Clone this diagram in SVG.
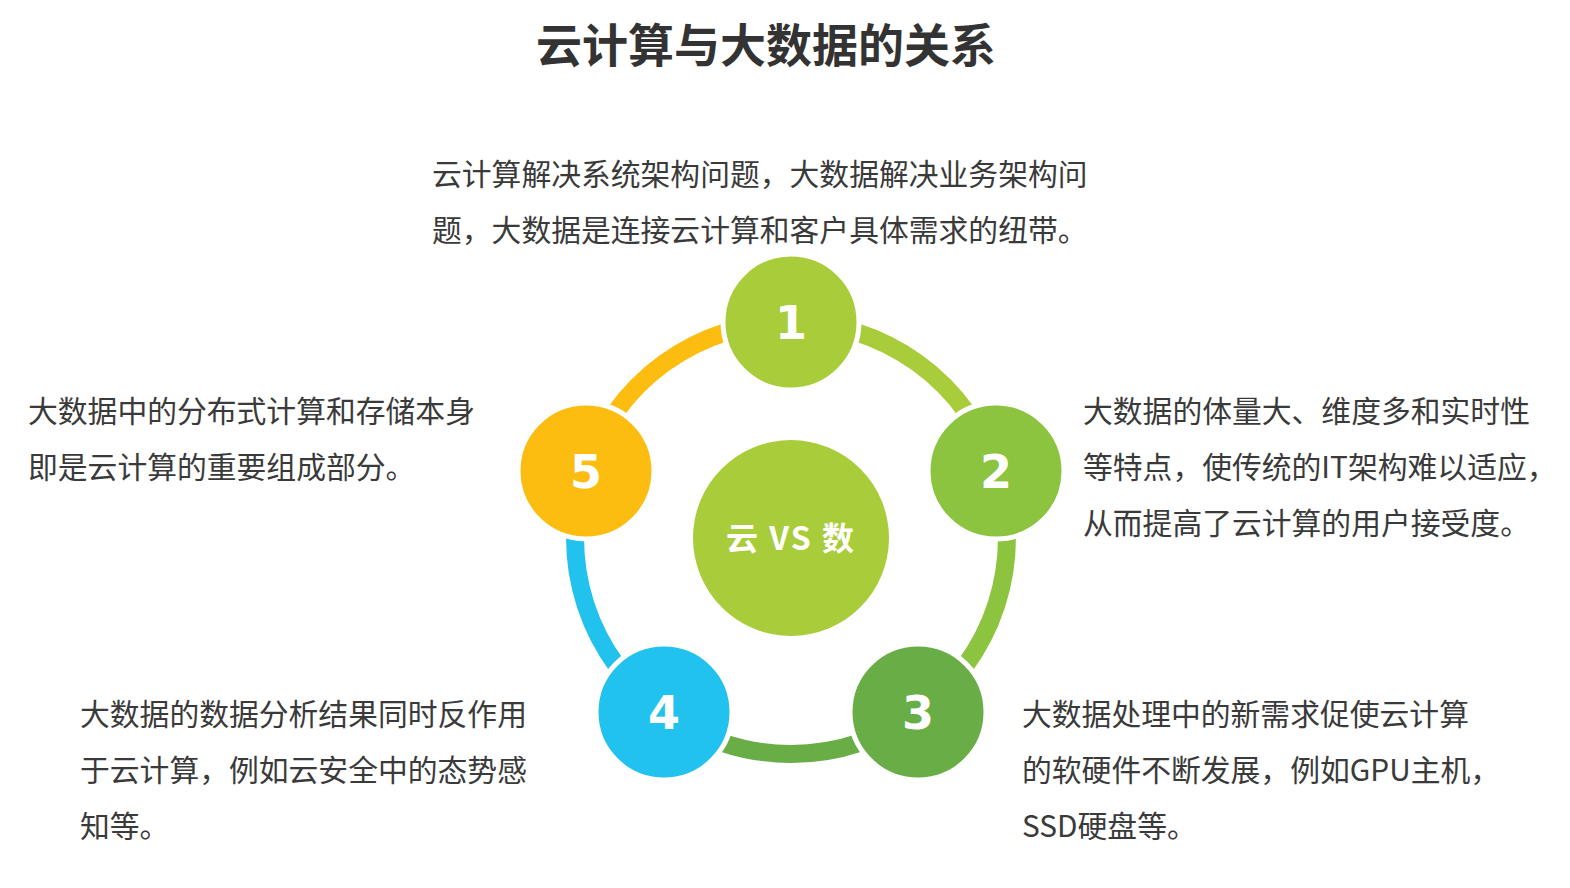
<svg xmlns="http://www.w3.org/2000/svg" width="1570" height="888" viewBox="0 0 1570 888">
<style>
.t{font-family:"Noto Sans CJK SC","Noto Sans",sans-serif;font-size:29.8px;fill:#3a3a3a}
.n{font-family:Verdana,"DejaVu Sans",sans-serif;font-weight:bold;font-size:46px;fill:#fff;text-anchor:middle}
.arc{fill:none;stroke-width:18}
.node{stroke:#fff;stroke-width:5}
</style>
<rect width="1570" height="888" fill="#fff"/>
<text x="766" y="62" text-anchor="middle" style="font-family:'Noto Sans CJK SC',sans-serif;font-weight:bold;font-size:46px;fill:#333">云计算与大数据的关系</text>
<g id="connectors">
<path class="arc" stroke="#a9cd3a" d="M791,322 A216,216 0 0 1 996.4,471.3"/>
<path class="arc" stroke="#8cc43f" d="M996.4,471.3 A216,216 0 0 1 918,712.7"/>
<path class="arc" stroke="#68ad45" d="M918,712.7 A216,216 0 0 1 664,712.7"/>
<path class="arc" stroke="#22c2ee" d="M664,712.7 A216,216 0 0 1 585.6,471.3"/>
<path class="arc" stroke="#fdbd10" d="M585.6,471.3 A216,216 0 0 1 791,322"/>
</g>
<g id="center"><circle cx="791" cy="538" r="98" fill="#a9cd3a"/><text x="791" y="550" text-anchor="middle" style="font-family:'Noto Sans CJK SC',sans-serif;font-weight:bold;font-size:32px;letter-spacing:2px;fill:#fff">云 VS 数</text></g>
<g id="n1"><circle class="node" cx="791" cy="322" r="68" fill="#a9cd3a"/><text class="n" x="791" y="339">1</text></g>
<g id="n2"><circle class="node" cx="996" cy="471" r="68" fill="#8cc43f"/><text class="n" x="996" y="488">2</text></g>
<g id="n3"><circle class="node" cx="918" cy="712" r="68" fill="#68ad45"/><text class="n" x="918" y="729">3</text></g>
<g id="n4"><circle class="node" cx="664" cy="712" r="68" fill="#22c2ee"/><text class="n" x="664" y="729">4</text></g>
<g id="n5"><circle class="node" cx="586" cy="471" r="68" fill="#fdbd10"/><text class="n" x="586" y="488">5</text></g>
<g id="texts">
<text class="t" x="432" y="185">云计算解决系统架构问题，大数据解决业务架构问</text>
<text class="t" x="432" y="241">题，大数据是连接云计算和客户具体需求的纽带。</text>
<text class="t" x="1083" y="422">大数据的体量大、维度多和实时性</text>
<text class="t" x="1083" y="478">等特点，使传统的IT架构难以适应，</text>
<text class="t" x="1083" y="534">从而提高了云计算的用户接受度。</text>
<text class="t" x="1022" y="725">大数据处理中的新需求促使云计算</text>
<text class="t" x="1022" y="781">的软硬件不断发展，例如GPU主机，</text>
<text class="t" x="1022" y="837">SSD硬盘等。</text>
<text class="t" x="80" y="725">大数据的数据分析结果同时反作用</text>
<text class="t" x="80" y="781">于云计算，例如云安全中的态势感</text>
<text class="t" x="80" y="837">知等。</text>
<text class="t" x="28" y="422">大数据中的分布式计算和存储本身</text>
<text class="t" x="28" y="478">即是云计算的重要组成部分。</text>
</g>
</svg>
